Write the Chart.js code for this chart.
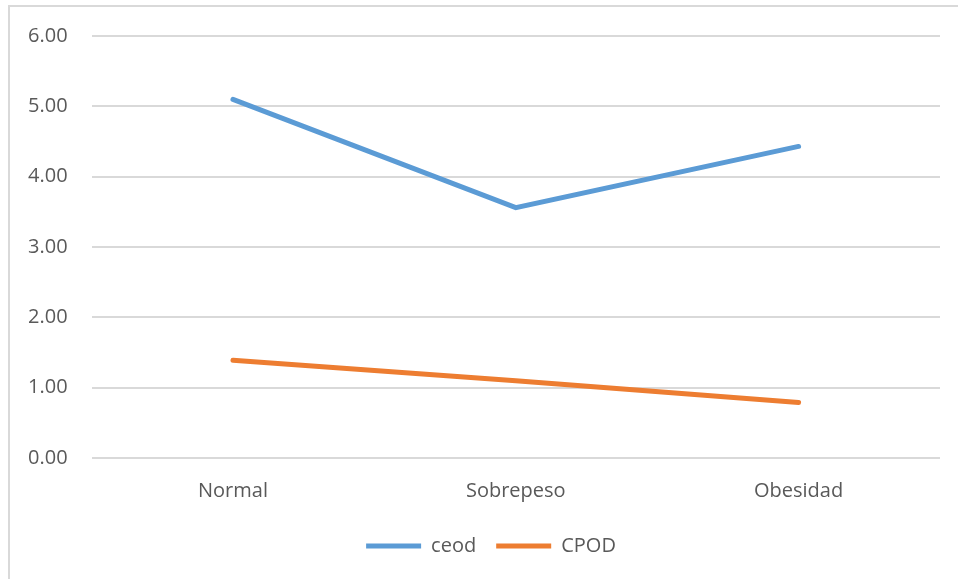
<!DOCTYPE html>
<html>
<head>
<meta charset="utf-8">
<script src="https://cdn.jsdelivr.net/npm/chart.js@4"></script>
<style>
  html, body { margin: 0; padding: 0; background: #fff; overflow: hidden; }
  #wrap { position: absolute; left: 8px; top: 5px; width: 990px; height: 590px;
          border-left: 2px solid #d9d9d9; border-top: 2px solid #d9d9d9; }
  #holder { position: absolute; left: 0; top: 0; width: 984px; height: 579px; }
</style>
</head>
<body>
<div id="wrap"></div>
<div id="holder"><canvas id="chart" width="984" height="579"></canvas></div>
<script>
const categories = ['Normal', 'Sobrepeso', 'Obesidad']
const ceodValues = [5.10, 3.56, 4.43]
const cpodValues = [1.39, 1.10, 0.79]

const textColour = '#595959'
const fontFamily = "'Open Sans', sans-serif"

// the legend in the original sits a bit right of the plot's centre
const shiftLegend = {
  id: 'shiftLegend',
  afterLayout: function (chart) {
    chart.legend.left += 19
    chart.legend.right += 19
  }
}

const chart = new Chart(
  document.getElementById('chart').getContext('2d'),
  {
    type: 'line',
    data: {
      labels: categories,
      datasets: [
        {label: 'ceod', data: ceodValues, borderColor: '#5b9bd5', backgroundColor: '#5b9bd5',
         borderWidth: 5, pointRadius: 0, borderCapStyle: 'round', tension: 0},
        {label: 'CPOD', data: cpodValues, borderColor: '#ed7d31', backgroundColor: '#ed7d31',
         borderWidth: 5, pointRadius: 0, borderCapStyle: 'round', tension: 0}
      ]
    },
    options: {
      responsive: false,
      animation: false,
      layout: {padding: {left: 4, right: 44, top: 24, bottom: 13}},
      scales: {
        x: {
          offset: true,
          grid: {display: false},
          border: {display: false},
          ticks: {color: textColour, font: {family: fontFamily, size: 20}, padding: 13}
        },
        y: {
          min: 0, max: 6,
          grid: {color: '#d9d9d9', lineWidth: 2, drawTicks: false},
          border: {display: false},
          ticks: {
            stepSize: 1, color: textColour, font: {family: fontFamily, size: 20}, padding: 24,
            callback: function (v) { return v.toFixed(2) }
          }
        }
      },
      plugins: {
        tooltip: {enabled: false},
        legend: {
          position: 'bottom',
          labels: {
            color: textColour, font: {family: fontFamily, size: 20},
            boxWidth: 55, boxHeight: 5, padding: 20,
            generateLabels: function (c) {
              return Chart.defaults.plugins.legend.labels.generateLabels(c).map(function (l) {
                l.lineWidth = 0
                return l
              })
            }
          }
        }
      }
    },
    plugins: [shiftLegend]
  }
)
</script>
</body>
</html>
